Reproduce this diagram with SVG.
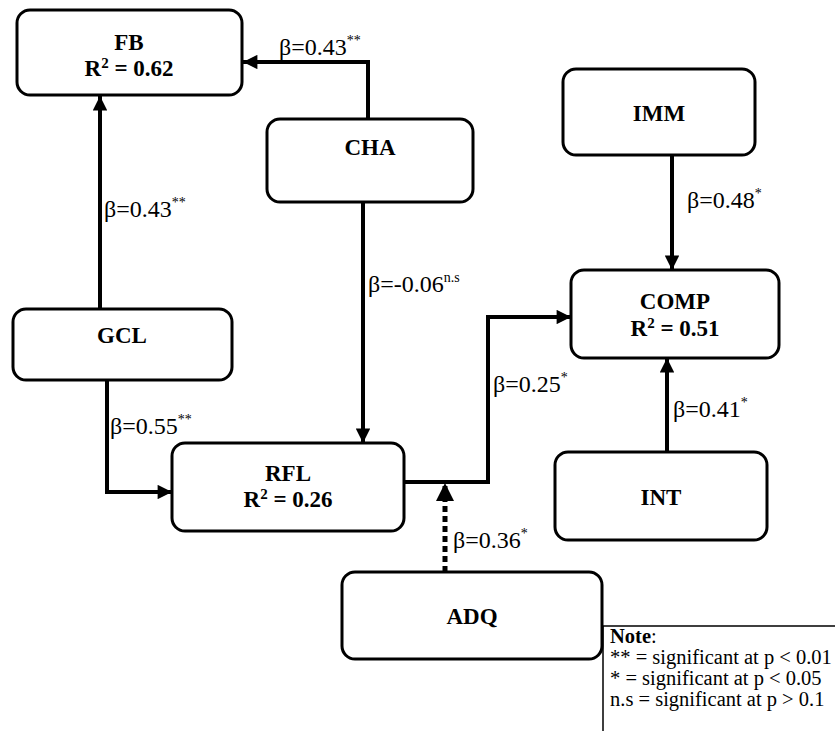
<svg xmlns="http://www.w3.org/2000/svg" width="835" height="731" viewBox="0 0 835 731">
<defs>
<marker id="ah" viewBox="0 0 10 10" refX="10" refY="5" markerWidth="3.8" markerHeight="3.6" markerUnits="strokeWidth" orient="auto">
<path d="M0,0 L10,5 L0,10 z" fill="#000"/>
</marker>
<style>
.box{fill:#fff;stroke:#000;stroke-width:3}
.lbl{font-family:"Liberation Serif","Times New Roman",serif;font-weight:bold;font-size:23px;text-anchor:middle;fill:#000}
.b{font-family:"Liberation Serif","Times New Roman",serif;font-size:24px;fill:#000}
.sup{font-size:14px}
.con{fill:none;stroke:#000;stroke-width:4}
.dash{stroke-dasharray:6 4;stroke-width:5}
.note{font-family:"Liberation Serif","Times New Roman",serif;font-size:20.5px;fill:#000}
</style>
</defs>
<rect width="835" height="731" fill="#fff"/>
<g id="connectors">
<path class="con" d="M368,119 V62 H243" marker-end="url(#ah)"/>
<path class="con" d="M100,309 V96" marker-end="url(#ah)"/>
<path class="con" d="M107,380 V492 H172" marker-end="url(#ah)"/>
<path class="con" d="M363,202 V443" marker-end="url(#ah)"/>
<path class="con" d="M404,482 H488 V317 H571" marker-end="url(#ah)"/>
<path class="con dash" d="M445,572 V483" marker-end="url(#ah)"/>
<path class="con" d="M672,155 V270" marker-end="url(#ah)"/>
<path class="con" d="M667,452 V358" marker-end="url(#ah)"/>
<text class="b" x="279" y="55">β=0.43<tspan class="sup" dy="-10">**</tspan></text>
<text class="b" x="104" y="217">β=0.43<tspan class="sup" dy="-10">**</tspan></text>
<text class="b" x="368" y="292">β=-0.06<tspan class="sup" dy="-10">n.s</tspan></text>
<text class="b" x="110" y="434">β=0.55<tspan class="sup" dy="-10">**</tspan></text>
<text class="b" x="493" y="392">β=0.25<tspan class="sup" dy="-10">*</tspan></text>
<text class="b" x="453" y="548">β=0.36<tspan class="sup" dy="-10">*</tspan></text>
<text class="b" x="687" y="208">β=0.48<tspan class="sup" dy="-10">*</tspan></text>
<text class="b" x="673" y="417">β=0.41<tspan class="sup" dy="-10">*</tspan></text>
</g>
<g id="FB">
<rect class="box" x="17" y="10" width="225" height="85" rx="13"/>
<text class="lbl" x="129" y="50">FB</text>
<text class="lbl" x="129" y="76">R<tspan font-size="15" dy="-8">2</tspan><tspan dy="8"> = 0.62</tspan></text>
</g>
<g id="CHA">
<rect class="box" x="267" y="119" width="206" height="83" rx="13"/>
<text class="lbl" x="370" y="155">CHA</text>
</g>
<g id="GCL">
<rect class="box" x="13" y="309" width="219" height="71" rx="13"/>
<text class="lbl" x="122" y="343">GCL</text>
</g>
<g id="RFL">
<rect class="box" x="172" y="443" width="232" height="88" rx="13"/>
<text class="lbl" x="288" y="481">RFL</text>
<text class="lbl" x="288" y="507">R<tspan font-size="15" dy="-8">2</tspan><tspan dy="8"> = 0.26</tspan></text>
</g>
<g id="IMM">
<rect class="box" x="563" y="69" width="192" height="86" rx="13"/>
<text class="lbl" x="659" y="121">IMM</text>
</g>
<g id="COMP">
<rect class="box" x="571" y="270" width="208" height="88" rx="13"/>
<text class="lbl" x="675" y="309">COMP</text>
<text class="lbl" x="675" y="336">R<tspan font-size="15" dy="-8">2</tspan><tspan dy="8"> = 0.51</tspan></text>
</g>
<g id="INT">
<rect class="box" x="555" y="452" width="212" height="88" rx="13"/>
<text class="lbl" x="661" y="505">INT</text>
</g>
<g id="ADQ">
<rect class="box" x="342" y="572" width="260" height="87" rx="13"/>
<text class="lbl" x="472" y="624">ADQ</text>
</g>
<g id="note">
<path d="M603,731 V626 H835" fill="none" stroke="#000" stroke-width="1.5"/>
<text class="note" x="610" y="643"><tspan font-weight="bold">Note</tspan>:</text>
<text class="note" x="610" y="664">** = significant at p &lt; 0.01</text>
<text class="note" x="610" y="685">* = significant at p &lt; 0.05</text>
<text class="note" x="610" y="706">n.s = significant at p &gt; 0.1</text>
</g>
</svg>
